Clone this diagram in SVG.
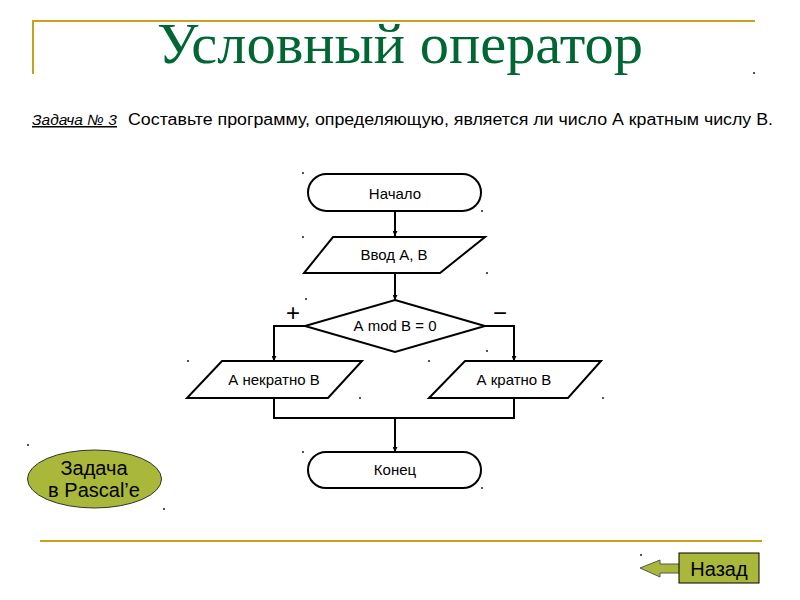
<svg xmlns="http://www.w3.org/2000/svg" width="800" height="600" viewBox="0 0 800 600">
<defs>
<style>
.gold{stroke:#C9A11A;stroke-width:2;fill:none}
.sh{fill:#fff;stroke:#000;stroke-width:2}
.ln{fill:none;stroke:#000;stroke-width:2}
.t{font-family:"Liberation Sans",Arial,sans-serif;font-size:15px;fill:#000;text-anchor:middle}
.dot{fill:#555}
</style>
<marker id="ah" viewBox="0 0 10 10" refX="10" refY="5" markerWidth="5" markerHeight="5" orient="auto" markerUnits="userSpaceOnUse">
<path d="M0,0 L10,5 L0,10 z" fill="#000"/>
</marker>
</defs>
<rect width="800" height="600" fill="#fff"/>
<path class="gold" d="M33,74 V21 H755"/>
<text x="400" y="63" font-family="'Liberation Serif','Times New Roman',serif" font-size="56" fill="#006633" text-anchor="middle" textLength="486" lengthAdjust="spacingAndGlyphs">Условный оператор</text>
<g id="task">
<text x="32" y="125" font-family="'Liberation Sans',Arial,sans-serif" font-size="15" font-style="italic" fill="#000" text-decoration="underline" textLength="85" lengthAdjust="spacingAndGlyphs">Задача № 3</text>
<text x="128" y="125" font-family="'Liberation Sans',Arial,sans-serif" font-size="16" fill="#000" textLength="645" lengthAdjust="spacingAndGlyphs">Составьте программу, определяющую, является ли число А кратным числу  В.</text>
</g>
<g id="connectors">
<path class="ln" d="M395,211 V236" marker-end="url(#ah)"/>
<path class="ln" d="M395,273 V300" marker-end="url(#ah)"/>
<path class="ln" d="M305,326 H274 V361" marker-end="url(#ah)"/>
<path class="ln" d="M485,326 H514 V361" marker-end="url(#ah)"/>
<path class="ln" d="M274,398 V418 H514 V398"/>
<path class="ln" d="M395,418 V452" marker-end="url(#ah)"/>
</g>
<g id="start">
<rect class="sh" x="308" y="174" width="173" height="37" rx="18.5"/>
<text class="t" x="395" y="199">Начало</text>
</g>
<g id="input">
<polygon class="sh" points="333,237 485,237 440,273 304,273"/>
<text class="t" x="394" y="260">Ввод  А, В</text>
</g>
<g id="cond">
<polygon class="sh" points="395,300 485,326 395,352 305,326"/>
<text class="t" x="395" y="331">А mod В = 0</text>
<text x="293" y="321" font-family="'Liberation Sans',Arial,sans-serif" font-size="24" text-anchor="middle" fill="#000">+</text>
<text x="500" y="321" font-family="'Liberation Sans',Arial,sans-serif" font-size="24" text-anchor="middle" fill="#000">−</text>
</g>
<g id="notmult">
<polygon class="sh" points="222,361 362,361 328,398 187,398"/>
<text class="t" x="274" y="385">А некратно В</text>
</g>
<g id="mult">
<polygon class="sh" points="465,361 601,361 568,398 429,398"/>
<text class="t" x="514" y="385">А кратно В</text>
</g>
<g id="end">
<rect class="sh" x="308" y="452" width="173" height="36" rx="18"/>
<text class="t" x="395" y="475">Конец</text>
</g>
<g id="pascal">
<ellipse cx="94.5" cy="479" rx="67" ry="29" fill="#A9B83A" stroke="#333" stroke-width="1"/>
<text x="94" y="475" font-family="'Liberation Sans',Arial,sans-serif" font-size="20" text-anchor="middle" fill="#000">Задача</text>
<text x="94" y="497" font-family="'Liberation Sans',Arial,sans-serif" font-size="20" text-anchor="middle" fill="#000">в Pascal’e</text>
</g>
<path class="gold" d="M40,541 H762"/>
<g id="back">
<polygon points="640,568 660,560 660,564 680,564 680,573 660,573 660,577" fill="#A9B83A" stroke="#555" stroke-width="1"/>
<rect x="679" y="553" width="80" height="30" fill="#A9B83A" stroke="#000" stroke-width="1"/>
<text x="719" y="576" font-family="'Liberation Sans',Arial,sans-serif" font-size="20" text-anchor="middle" fill="#000">Назад</text>
</g>
<g id="dots">
<rect class="dot" x="302" y="172" width="2" height="2"/>
<rect class="dot" x="481" y="210" width="2" height="2"/>
<rect class="dot" x="302" y="236" width="2" height="2"/>
<rect class="dot" x="486" y="272" width="2" height="2"/>
<rect class="dot" x="305" y="298" width="2" height="2"/>
<rect class="dot" x="486" y="350" width="2" height="2"/>
<rect class="dot" x="187" y="360" width="2" height="2"/>
<rect class="dot" x="428" y="360" width="2" height="2"/>
<rect class="dot" x="359" y="397" width="2" height="2"/>
<rect class="dot" x="602" y="397" width="2" height="2"/>
<rect class="dot" x="302" y="451" width="2" height="2"/>
<rect class="dot" x="481" y="487" width="2" height="2"/>
<rect class="dot" x="27" y="444" width="2" height="2"/>
<rect class="dot" x="163" y="508" width="2" height="2"/>
<rect class="dot" x="753" y="72" width="2" height="2"/>
<rect class="dot" x="640" y="554" width="2" height="2"/>
</g>
</svg>
